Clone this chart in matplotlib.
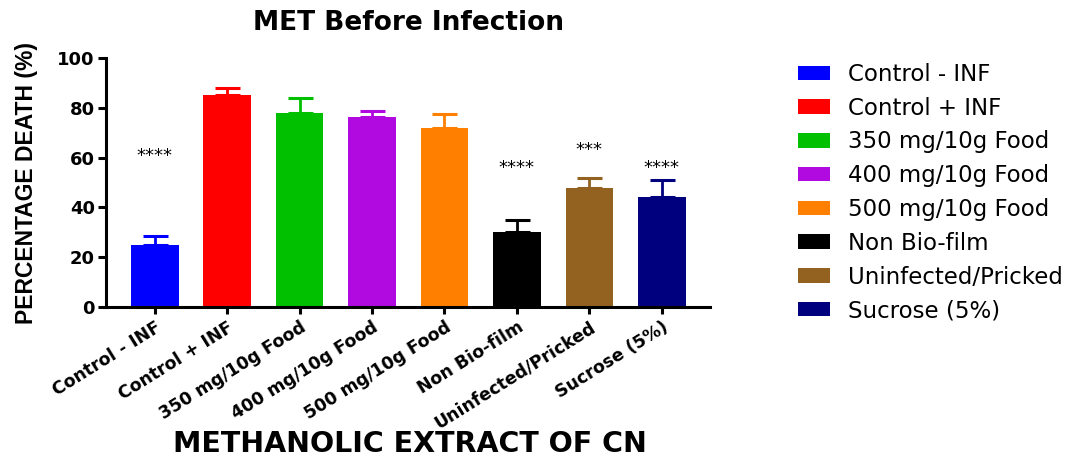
import matplotlib.pyplot as plt
from matplotlib.patches import Patch

plt.rcParams['font.family'] = ['DejaVu Sans']

# data
groups = ['Control - INF', 'Control + INF', '350 mg/10g Food', '400 mg/10g Food',
          '500 mg/10g Food', 'Non Bio-film', 'Uninfected/Pricked', 'Sucrose (5%)']
means = [25, 85, 78, 76.5, 72, 30, 48, 44]
errors = [3.5, 3, 6, 2.3, 5.5, 5, 4, 7]
stars = ['****', '', '', '', '', '****', '***', '****']
star_y = [60.5, 0, 0, 0, 0, 56, 63, 56]
colors = ['#0000ff', '#ff0000', '#00c000', '#b00ae0', '#ff8000', '#000000', '#946220', '#00007f']

fig = plt.figure(figsize=(10.91, 4.59), dpi=100)
ax = fig.add_axes([0.0972, 0.331, 0.554, 0.5427])

x = list(range(len(groups)))
ax.bar(x, means, width=0.66, color=colors, zorder=2)
for i in x:
    ax.errorbar(i, means[i], yerr=[[0], [errors[i]]], fmt='none', ecolor=colors[i],
                elinewidth=2, capsize=9, capthick=2.2, zorder=3)
    if stars[i]:
        ax.text(i, star_y[i], stars[i], ha='center', va='center', fontsize=13)

ax.set_xlim(-0.67, 7.67)
ax.set_ylim(0, 100)
ax.set_yticks([0, 20, 40, 60, 80, 100])
ax.set_xticks(x)
ax.set_xticklabels(groups, rotation=32, ha='right', va='top', rotation_mode='anchor',
                   fontsize=12.5, fontweight='bold')
for lab in ax.get_yticklabels():
    lab.set_fontsize(13)
    lab.set_fontweight('bold')

for s in ['top', 'right']:
    ax.spines[s].set_visible(False)
for s in ['left', 'bottom']:
    ax.spines[s].set_linewidth(2.2)
ax.tick_params(axis='y', length=6, width=2.2, pad=2)
ax.tick_params(axis='x', length=5, width=2.2, pad=3)

ax.set_title('MET Before Infection', fontsize=19, fontweight='bold', pad=20)
ax.set_ylabel('PERCENTAGE DEATH (%)', fontsize=16.5, fontweight='bold',
              family='Liberation Sans', labelpad=14)
fig.text(0.376, 0.003, 'METHANOLIC EXTRACT OF CN', ha='center', va='bottom',
         fontsize=20.5, fontweight='bold')

handles = [Patch(facecolor=c, edgecolor='none') for c in colors]
fig.legend(handles, groups, loc='upper left', bbox_to_anchor=(0.7314, 0.863),
           frameon=False, fontsize=16.5, handlelength=1.4, handleheight=0.6,
           labelspacing=0.47, handletextpad=0.8, borderpad=0, borderaxespad=0)

fig.savefig('out.png', dpi=100)
